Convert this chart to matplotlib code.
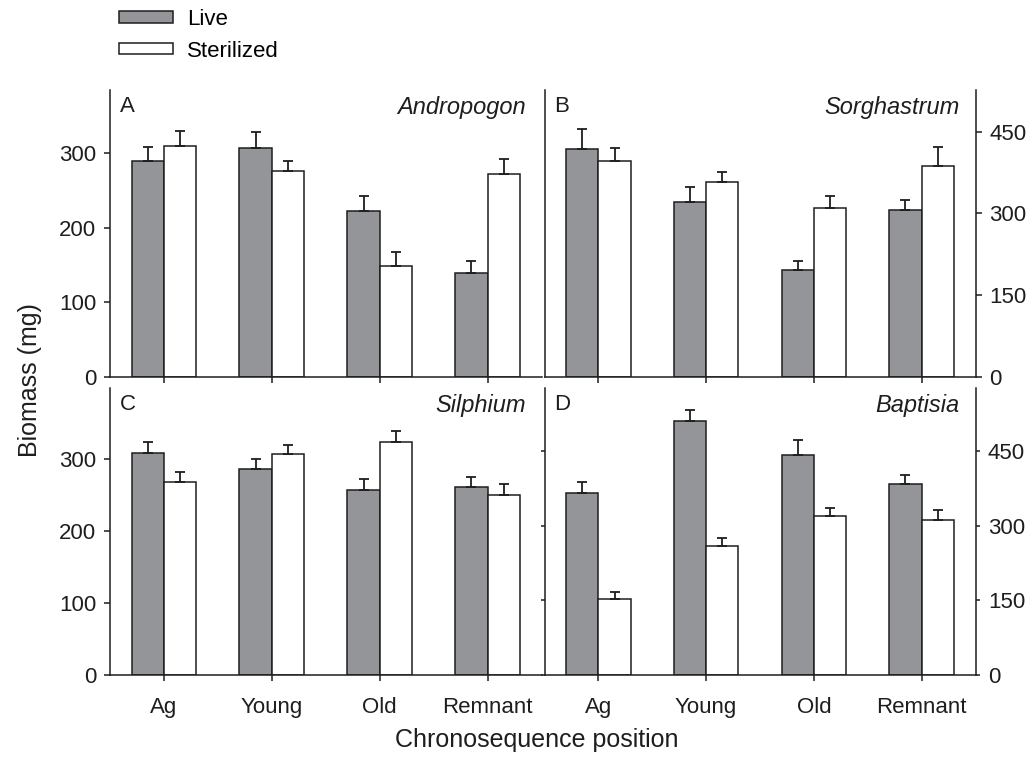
import matplotlib
matplotlib.use('Agg')
import matplotlib.pyplot as plt
import numpy as np

plt.rcParams['font.family'] = ['Liberation Sans', 'DejaVu Sans']

groups = ['Ag', 'Young', 'Old', 'Remnant']

# biomass means and upper SE bars (mg)
andropogon_live = [289, 307, 222, 139]
andropogon_live_se = [20, 22, 21, 17]
andropogon_ster = [310, 276, 148, 272]
andropogon_ster_se = [20, 14, 19, 20]

sorghastrum_live = [418, 321, 196, 307]
sorghastrum_live_se = [38, 28, 17, 17]
sorghastrum_ster = [397, 357, 310, 388]
sorghastrum_ster_se = [23, 19, 22, 34]

silphium_live = [308, 285, 257, 261]
silphium_live_se = [15, 14, 15, 14]
silphium_ster = [267, 306, 323, 249]
silphium_ster_se = [15, 13, 15, 16]

baptisia_live = [367, 512, 442, 384]
baptisia_live_se = [21, 22, 32, 19]
baptisia_ster = [153, 260, 319, 312]
baptisia_ster_se = [14, 16, 17, 20]

W, H = 1032, 779
GRAY = '#939598'
INK = '#1e1e1e'
FS = 16


def rect(l, r, t, b):
    return [l / W, 1 - b / H, (r - l) / W, (b - t) / H]


fig = plt.figure(figsize=(W / 100, H / 100), dpi=100)

panels = [
    # letter, species, live, live_se, ster, ster_se, rect, ylim top, yticks, labels on right
    ('A', 'Andropogon', andropogon_live, andropogon_live_se, andropogon_ster, andropogon_ster_se,
     rect(110, 541.5, 90, 376.7), 385, [0, 100, 200, 300], False),
    ('B', 'Sorghastrum', sorghastrum_live, sorghastrum_live_se, sorghastrum_ster, sorghastrum_ster_se,
     rect(544.5, 975.5, 90, 376.7), 527, [0, 150, 300, 450], True),
    ('C', 'Silphium', silphium_live, silphium_live_se, silphium_ster, silphium_ster_se,
     rect(110, 541.5, 388, 674.7), 398, [0, 100, 200, 300], False),
    ('D', 'Baptisia', baptisia_live, baptisia_live_se, baptisia_ster, baptisia_ster_se,
     rect(544.5, 975.5, 388, 674.7), 578, [0, 150, 300, 450], True),
]

x = np.arange(len(groups))
w = 0.3
handles = None
for i, (letter, species, live, live_se, ster, ster_se, r, ytop, yt, right) in enumerate(panels):
    ax = fig.add_axes(r)
    ekw = dict(elinewidth=1.3, capthick=1.3, ecolor=INK)
    b1 = ax.bar(x - w / 2, live, w, color=GRAY, edgecolor=INK, linewidth=1.1,
                yerr=[np.zeros(4), live_se], capsize=3.5, error_kw=ekw, label='Live')
    b2 = ax.bar(x + w / 2, ster, w, color='white', edgecolor=INK, linewidth=1.1,
                yerr=[np.zeros(4), ster_se], capsize=3.5, error_kw=ekw, label='Sterilized')
    handles = [b1, b2]
    ax.set_xlim(-0.5, 3.5)
    ax.set_ylim(0, ytop)
    ax.set_xticks(x)
    ax.set_yticks(yt)
    ax.spines['top'].set_visible(False)
    for s in ax.spines.values():
        s.set_linewidth(1.1)
        s.set_color(INK)
    ax.tick_params(axis='both', direction='out', length=4, width=1.1, color=INK,
                   labelsize=FS, labelcolor=INK)
    ax.tick_params(axis='x', pad=12)
    ax.tick_params(axis='y', pad=6)
    if right:
        ax.yaxis.tick_right()
        if letter == 'D':
            ax.tick_params(axis='y', left=True, length=3)
    else:
        ax.spines['right'].set_visible(False)
    if i < 2:
        ax.set_xticklabels([])
    else:
        ax.set_xticklabels(groups)
    ax.text(0.022, 0.978, letter, transform=ax.transAxes, fontsize=FS,
            ha='left', va='top', color=INK)
    ax.text(0.963, 0.978, species, transform=ax.transAxes, fontsize=FS + 1,
            style='italic', ha='right', va='top', color=INK)

fig.text(30 / W, 1 - 380 / H, 'Biomass (mg)', rotation=90, fontsize=18,
         ha='center', va='center', color=INK)
fig.text(537 / W, 1 - 740 / H, 'Chronosequence position', fontsize=18,
         ha='center', va='center', color=INK)

fig.legend(handles, ['Live', 'Sterilized'], loc='upper left',
           bbox_to_anchor=(119 / W, 1 - 9 / H), frameon=False, fontsize=FS,
           handlelength=2.45, handleheight=0.4, handletextpad=0.6,
           labelspacing=0.48, borderpad=0, borderaxespad=0)

fig.savefig('out.png', dpi=100)
